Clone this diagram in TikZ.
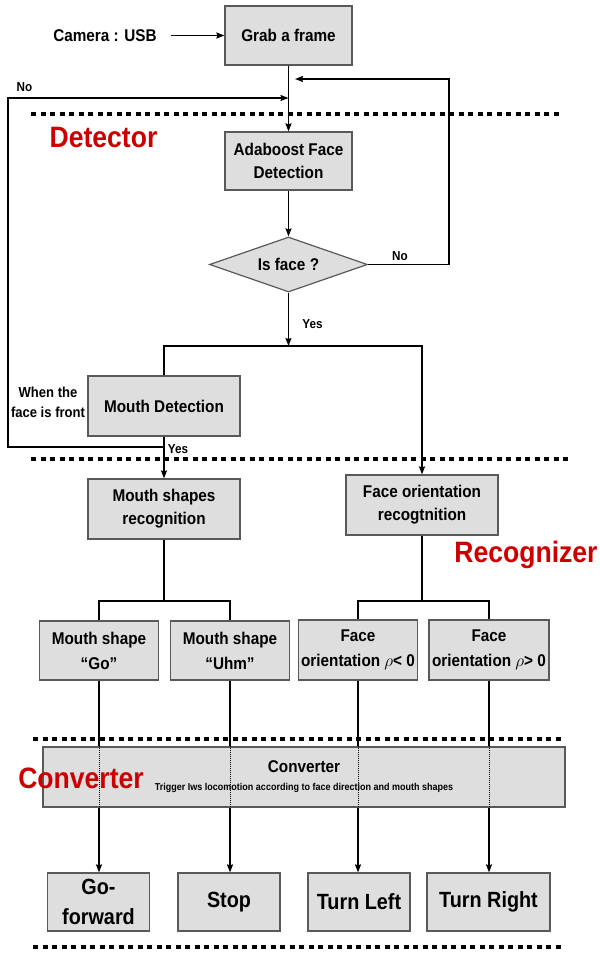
\documentclass[tikz,border=0pt]{standalone}
\usepackage{fontspec}
\setmainfont{Liberation Sans}[FakeStretch=0.9]
\usetikzlibrary{arrows.meta,shapes.geometric}
\definecolor{boxgray}{rgb}{0.87,0.87,0.87}
\definecolor{edgegray}{rgb}{0.35,0.35,0.35}
\definecolor{tagred}{rgb}{0.8,0,0}

\begin{document}
\begin{tikzpicture}[x=1pt,y=-1pt,
  every node/.style = {font=\bfseries\fontsize{17}{23}\selectfont},
  box/.style = {draw=edgegray, fill=boxgray, line width=1.2pt, inner sep=0pt,
                align=center, minimum height=59pt},
  bigbox/.style = {box, minimum height=58pt, font=\bfseries\fontsize{22}{30}\selectfont},
  lbl/.style = {inner sep=0pt, font=\bfseries\fontsize{13}{15}\selectfont},
  tag/.style = {inner sep=0pt, text=tagred, font=\bfseries\fontsize{29.5}{31}\selectfont},
  sep/.style = {line width=3.5pt, dash pattern=on 5pt off 4.5pt},
  >={Stealth[length=8pt,width=6pt,inset=1pt]},
  line width=1.4pt
]
\useasboundingbox (0,0) rectangle (600,959);

% detector
\node[inner sep=0pt] (cam) at (105,35.5) {Camera : USB};
\node[box, minimum width=127pt] (grab) at (288.5,35.5) {Grab a frame};
\node[box, minimum width=127pt, minimum height=58pt] (ada) at (288.5,161) {Adaboost Face\\Detection};
\node[diamond, draw=edgegray, fill=boxgray, line width=1.2pt, inner sep=0pt,
      aspect=2.87, minimum width=158pt, minimum height=55pt] (isface) at (288.5,264.5) {Is face ?};
\node[box, minimum width=152pt, minimum height=60pt] (mdet) at (164,406) {Mouth Detection};

% recognizer
\node[box, minimum width=152pt, minimum height=60pt] (msr) at (164,509) {Mouth shapes\\recognition};
\node[box, minimum width=152pt, minimum height=60pt] (forec) at (422,505) {Face orientation\\recogtnition};
\node[box, minimum width=119pt, font=\bfseries\fontsize{17}{25}\selectfont] (go) at (99,650.5) {Mouth shape\\“Go”};
\node[box, minimum width=119pt, font=\bfseries\fontsize{17}{25}\selectfont] (uhm) at (230,650.5) {Mouth shape\\“Uhm”};
\node[box, minimum width=119.6pt, minimum height=60pt, font=\bfseries\fontsize{17}{25}\selectfont] (fneg) at (358,650) {Face\\orientation $\rho$< 0};
\node[box, minimum width=120pt, minimum height=60pt, font=\bfseries\fontsize{17}{25}\selectfont] (fpos) at (489,650) {Face\\orientation $\rho$> 0};

% converter
\node[box, minimum width=522pt, minimum height=60pt] (conv) at (304,777)
  {Converter\\[-5pt]{\fontsize{10}{11}\selectfont Trigger Iws locomotion according to face direction and mouth shapes}};
\node[bigbox, minimum width=102pt] (fwd) at (98.5,902) {Go-\\forward};
\node[bigbox, minimum width=102pt] (stop) at (229,902) {Stop};
\node[bigbox, minimum width=102pt] (tleft) at (359,902) {Turn Left};
\node[bigbox, minimum width=123pt] (tright) at (488.5,902) {Turn Right};

\node[tag] (dettag) at (103.5,137) {Detector};
\node[tag] (rectag) at (526,555) {Recognizer};
\node[tag] (convtag) at (81,778) {Converter};

\node[lbl] (no1) at (24.5,87) {No};
\node[lbl] (no2) at (400,256) {No};
\node[lbl] (yes1) at (312.5,324) {Yes};
\node[lbl] (yes2) at (178,449) {Yes};
\node[lbl, align=center, font=\bfseries\fontsize{14.5}{20}\selectfont] (front) at (48,402) {When the\\face is front};

\coordinate (noin) at (288.5,98);
\coordinate (retin) at (295,79);
\coordinate (yesj) at (288.5,346);
\coordinate (mdj) at (164,447);
\coordinate (msj) at (164,601);
\coordinate (frj) at (422,601);

% connectors
\draw[->, shorten <=14pt] (cam) -- (grab);
\draw[->] (grab) -- (ada);
\draw[->] (ada) -- (isface);
\draw[->] (isface.east) -- ++(81,0) |- (retin);
\draw[->] (isface) -- (yesj);
\draw[->] (mdet.north) |- (yesj) -| (forec.north);
\draw (mdet) -- (mdj);
\draw[->] (mdj) -- (msr);
\draw[->] (mdj) -- (8,447) |- (noin);
\draw (msr) -- (msj);
\draw (go.north) |- (msj) -| (uhm.north);
\draw (forec) -- (frj);
\draw (fneg.north) |- (frj) -| (fpos.north);
\foreach \a/\b in {go/fwd, uhm/stop, fneg/tleft, fpos/tright} {
  \draw (\a.south) -- (\a.south |- conv.north);
  \draw[line width=1pt, densely dotted] (\a.south |- conv.north) -- (\a.south |- conv.south);
  \draw[->] (\a.south |- conv.south) -- (\a.south |- \b.north);
}

% separators
\draw[sep] (31,114) -- (561,114);
\draw[sep] (31,459) -- (569,459);
\draw[sep] (33,739) -- (563,739);
\draw[sep] (33,947) -- (563,947);
\end{tikzpicture}
\end{document}
